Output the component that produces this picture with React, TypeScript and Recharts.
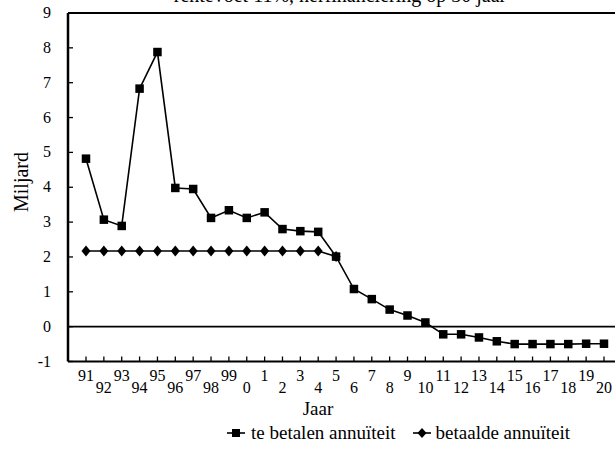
import React from 'react';
import { LineChart, Line, XAxis, YAxis, ReferenceLine } from 'recharts';

const jaren = ['91','92','93','94','95','96','97','98','99','0','1','2','3','4','5','6','7','8','9','10','11','12','13','14','15','16','17','18','19','20'];
const teBetalen = [4.82,3.07,2.89,6.83,7.88,3.98,3.95,3.12,3.34,3.12,3.28,2.8,2.74,2.72,2.01,1.08,0.79,0.49,0.32,0.12,-0.22,-0.22,-0.31,-0.42,-0.5,-0.5,-0.5,-0.5,-0.49,-0.49];
const betaald = [2.17,2.17,2.17,2.17,2.17,2.17,2.17,2.17,2.17,2.17,2.17,2.17,2.17,2.17,2.01,null,null,null,null,null,null,null,null,null,null,null,null,null,null,null];
const yTicks = [-1,0,1,2,3,4,5,6,7,8,9];
const seriesNames = ['te betalen annuïteit', 'betaalde annuïteit'];
const titleText = 'rentevoet 11%, herfinanciering op 30 jaar';

const data = jaren.map((j, i) => ({ jaar: j, teBetalen: teBetalen[i], betaald: betaald[i] }));

const FONT = '"Liberation Serif", "Times New Roman", serif';

const XTick = (props: any) => {
  const { x, y, payload, index } = props;
  const idx = typeof index === 'number' ? index : payload.index;
  return (
    <g>
      <line x1={x} x2={x} y1={y - 5} y2={y} stroke="#000" strokeWidth={1.3} />
      <text x={x} y={y + (idx % 2 === 0 ? 19 : 31)} textAnchor="middle" fontSize={16} style={{ fontFamily: FONT }} fill="#000">
        {payload.value}
      </text>
    </g>
  );
};

const YTick = (props: any) => {
  const { x, y, payload } = props;
  return (
    <g>
      <line x1={x} x2={x + 5} y1={y} y2={y} stroke="#000" strokeWidth={1.3} />
      <text x={x - 17} y={y + 5} textAnchor="end" fontSize={16} style={{ fontFamily: FONT }} fill="#000">
        {payload.value}
      </text>
    </g>
  );
};

const Square = (props: any) => {
  const { cx, cy } = props;
  if (cx == null || cy == null) return null;
  return <rect x={cx - 4.25} y={cy - 4.25} width={8.5} height={8.5} fill="#000" />;
};

const Diamond = (props: any) => {
  const { cx, cy, value } = props;
  if (cx == null || cy == null || value == null) return null;
  return <path d={`M${cx},${cy - 5.5} L${cx + 4.5},${cy} L${cx},${cy + 5.5} L${cx - 4.5},${cy} Z`} fill="#000" />;
};

export default function App() {
  return (
    <div style={{ position: 'absolute', left: 0, top: 0, width: 615, height: 449, overflow: 'hidden', background: '#fff', fontFamily: FONT }}>
      <div style={{ position: 'absolute', left: 0, top: 0 }}>
        <LineChart width={640} height={449} data={data} margin={{ top: 13, right: 18, left: 0, bottom: 0 }}>
          <XAxis
            dataKey="jaar"
            height={87.5}
            padding={{ left: 18, right: 18 }}
            interval={0}
            tickLine={false}
            tickSize={0}
            tickMargin={0}
            tick={<XTick />}
            axisLine={{ stroke: '#000', strokeWidth: 2 }}
          />
          <YAxis
            width={68}
            domain={[-1, 9]}
            ticks={yTicks}
            interval={0}
            tickLine={false}
            tickSize={0}
            tickMargin={0}
            tick={<YTick />}
            axisLine={{ stroke: '#000', strokeWidth: 2.5 }}
          />
          <ReferenceLine y={9} stroke="#000" strokeWidth={2} />
          <ReferenceLine y={0} stroke="#000" strokeWidth={1.6} />
          <Line dataKey="betaald" stroke="#000" strokeWidth={1.6} dot={<Diamond />} isAnimationActive={false} connectNulls={false} />
          <Line dataKey="teBetalen" stroke="#000" strokeWidth={1.6} dot={<Square />} isAnimationActive={false} />
        </LineChart>
      </div>
      <div style={{ position: 'absolute', left: 0, width: 680, top: -15, textAlign: 'center', fontSize: 20, lineHeight: '20px', whiteSpace: 'nowrap' }}>
        {titleText}
      </div>
      <div style={{ position: 'absolute', left: 21, top: 182, width: 0, height: 0 }}>
        <div style={{ position: 'absolute', left: 0, top: 0, transform: 'translate(-50%, -50%) rotate(-90deg)', fontSize: 20, lineHeight: '22px', whiteSpace: 'nowrap' }}>
          Miljard
        </div>
      </div>
      <div style={{ position: 'absolute', left: 318, top: 409, width: 0, height: 0 }}>
        <div style={{ position: 'absolute', left: 0, top: 0, transform: 'translate(-50%, -50%)', fontSize: 19, whiteSpace: 'nowrap', lineHeight: '20px' }}>
          Jaar
        </div>
      </div>
      <div style={{ position: 'absolute', left: 226, top: 422, display: 'flex', alignItems: 'center', fontSize: 19, lineHeight: '22px', whiteSpace: 'nowrap' }}>
        <svg width={20} height={12} style={{ marginRight: 5 }}>
          <line x1={1} x2={19} y1={6} y2={6} stroke="#000" strokeWidth={1.6} />
          <rect x={6} y={2} width={8} height={8} fill="#000" />
        </svg>
        <span>{seriesNames[0]}</span>
        <svg width={20} height={12} style={{ marginLeft: 16, marginRight: 4 }}>
          <line x1={1} x2={19} y1={6} y2={6} stroke="#000" strokeWidth={1.6} />
          <path d="M10,1 L14.5,6 L10,11 L5.5,6 Z" fill="#000" />
        </svg>
        <span>{seriesNames[1]}</span>
      </div>
    </div>
  );
}
